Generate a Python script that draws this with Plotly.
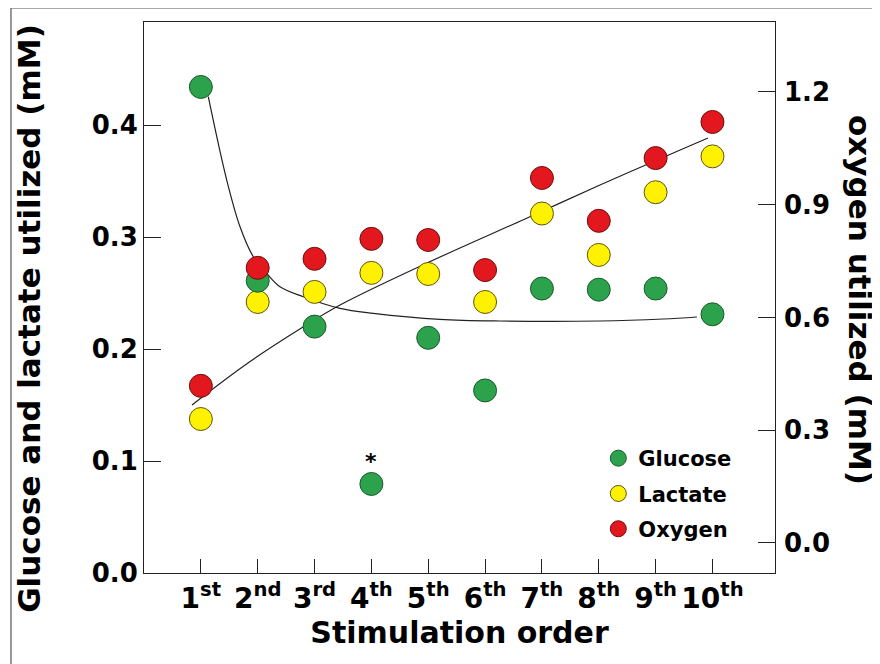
import plotly.graph_objects as go

# ---- data ----
stim = [1, 2, 3, 4, 5, 6, 7, 8, 9, 10]
stim_labels = ["1<sup>st</sup>", "2<sup>nd</sup>", "3<sup>rd</sup>", "4<sup>th</sup>", "5<sup>th</sup>",
               "6<sup>th</sup>", "7<sup>th</sup>", "8<sup>th</sup>", "9<sup>th</sup>", "10<sup>th</sup>"]
glucose = [0.434, 0.261, 0.220, 0.0795, 0.210, 0.163, 0.254, 0.253, 0.254, 0.231]
lactate = [0.1375, 0.242, 0.251, 0.268, 0.267, 0.242, 0.321, 0.284, 0.340, 0.372]
oxygen = [0.418, 0.732, 0.756, 0.809, 0.806, 0.726, 0.971, 0.857, 1.024, 1.120]

gluc_curve_x = [1.131, 1.455, 1.689, 1.923, 2.158, 2.392, 2.802, 3.448, 4.033, 5.207, 6.262, 8.021, 9.129, 9.727]
gluc_curve_y = [0.4253, 0.3509, 0.3092, 0.2824, 0.2676, 0.2556, 0.2467, 0.2363, 0.2319, 0.2265, 0.225, 0.225, 0.2268, 0.2286]
rise_curve_x = [0.844, 1.829, 2.797, 3.448, 4.978, 6.702, 8.021, 9.921]
rise_curve_y = [0.150, 0.1875, 0.2196, 0.2393, 0.2768, 0.3161, 0.3464, 0.3884]

left_ticks = [0.0, 0.1, 0.2, 0.3, 0.4]
right_ticks = [0.0, 0.3, 0.6, 0.9, 1.2]

FONT = "DejaVu Sans"

fig = go.Figure()

fig.add_trace(go.Scatter(x=gluc_curve_x, y=gluc_curve_y, mode="lines", line=dict(color="#222", width=1.2, shape="spline"),
                         showlegend=False, hoverinfo="skip"))
fig.add_trace(go.Scatter(x=rise_curve_x, y=rise_curve_y, mode="lines", line=dict(color="#222", width=1.2, shape="spline"),
                         showlegend=False, hoverinfo="skip"))

fig.add_trace(go.Scatter(x=stim, y=oxygen, mode="markers", name="Oxygen", yaxis="y2", legendrank=3,
                         legendgroup="o",
                         marker=dict(size=23, color="#E3171E", line=dict(color="#6E1010", width=1))))
fig.add_trace(go.Scatter(x=stim, y=lactate, mode="markers", name="Lactate", legendrank=2,
                         legendgroup="l",
                         marker=dict(size=23, color="#FFF200", line=dict(color="#5E5410", width=1))))
fig.add_trace(go.Scatter(x=stim, y=glucose, mode="markers", name="Glucose", legendrank=1,
                         legendgroup="g",
                         marker=dict(size=23, color="#2CA24C", line=dict(color="#1B5A2C", width=1))))

fig.add_annotation(x=stim[3], y=glucose[3], text="*", showarrow=False, yshift=22,
                   font=dict(family=FONT, size=22, color="black", weight="bold"))

title_font = dict(family=FONT, size=30, color="black", weight="bold")

# left axis title (placed to match the reference's vertical position)
fig.add_annotation(xref="paper", yref="paper", x=-0.1823, y=0.463, xanchor="center", yanchor="middle",
                   text="Glucose and lactate utilized (mM)", textangle=-90, showarrow=False,
                   font=dict(family=FONT, size=31, color="black", weight="bold"))
# right axis title reads top-to-bottom
fig.add_annotation(xref="paper", yref="paper", x=1.135, y=0.495, xanchor="center", yanchor="middle",
                   text="oxygen utilized (mM)", textangle=90, showarrow=False,
                   font=dict(family=FONT, size=31, color="black", weight="bold"))

# outer image frame
fig.add_shape(type="rect", xref="paper", yref="paper", x0=-0.2108, x1=1.25, y0=-0.3, y1=1.0254,
              line=dict(color="#555", width=1.2))

axis_font = dict(family=FONT, size=26, color="black", weight="bold")

fig.update_layout(
    width=872, height=656, autosize=False,
    margin=dict(l=136, r=105, t=14, b=91),
    paper_bgcolor="white", plot_bgcolor="white",
    xaxis=dict(range=[0, 11.1], tickvals=stim, ticktext=stim_labels, ticks="inside", ticklen=14,
               tickcolor="#222", showline=True, linecolor="#222", linewidth=1, mirror=True,
               showgrid=False, zeroline=False,
               tickfont=dict(family=FONT, size=28, color="black", weight="bold"),
               title=dict(text="Stimulation order", standoff=6, font=title_font)),
    yaxis=dict(range=[0, 0.492], tickvals=left_ticks, tickformat=".1f", ticks="inside", ticklen=17,
               tickcolor="#222", showline=True, linecolor="#222", linewidth=1, mirror=True,
               showgrid=False, zeroline=False, tickfont=axis_font),
    yaxis2=dict(range=[-0.08, 1.386], tickvals=right_ticks, tickformat=".1f", ticks="inside", ticklen=17,
                tickcolor="#222", overlaying="y", side="right", showgrid=False, zeroline=False,
                showline=False, tickfont=axis_font, ticklabelstandoff=8),
    legend=dict(x=0.72, y=0.245, xanchor="left", yanchor="top", bgcolor="rgba(0,0,0,0)",
                tracegroupgap=5, font=dict(family=FONT, size=21, color="black", weight="bold")),
    showlegend=True,
)

fig.write_html("out.html", config={"displayModeBar": False})
